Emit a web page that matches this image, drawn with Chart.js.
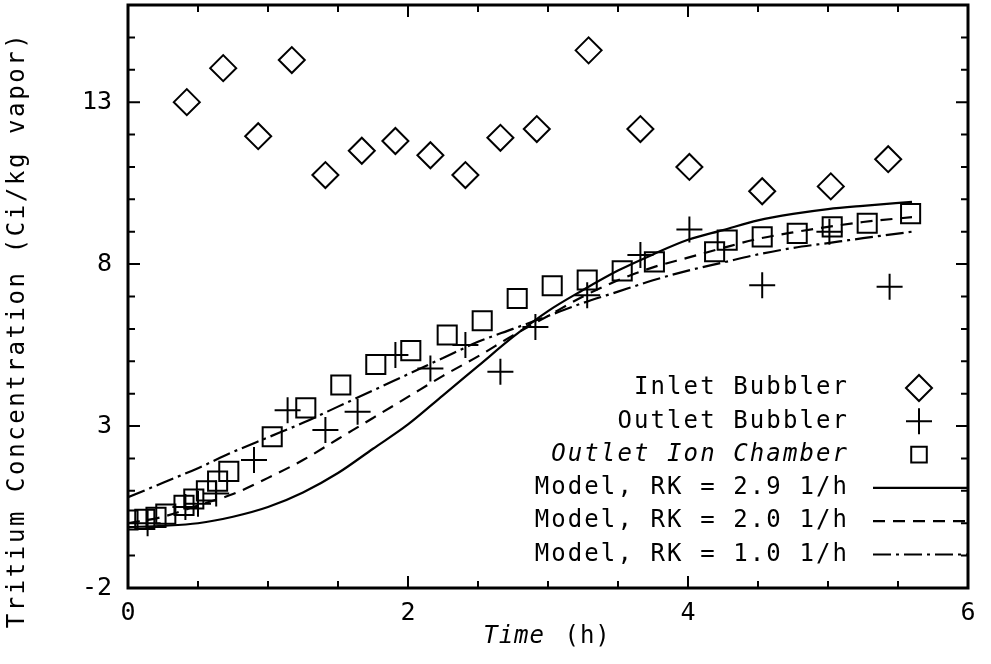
<!DOCTYPE html>
<html>
<head>
<meta charset="utf-8">
<script src="https://cdn.jsdelivr.net/npm/chart.js@4/dist/chart.umd.min.js"></script>
<style>
  html, body { margin: 0; padding: 0; background: #fff; }
  #wrap { width: 991px; height: 664px; }
</style>
</head>
<body>
<div id="wrap"><canvas id="c" width="991" height="664"></canvas></div>
<script>
// Inlet bubbler samples (h, Ci/kg vapor)
const inletTime = [0.42, 0.68, 0.93, 1.17, 1.41, 1.67, 1.91, 2.16, 2.41, 2.66, 2.92, 3.29, 3.66, 4.01, 4.53, 5.02, 5.43];
const inletConc = [13.0, 14.05, 11.95, 14.3, 10.75, 11.5, 11.8, 11.36, 10.75, 11.9, 12.17, 14.6, 12.17, 11.0, 10.25, 10.4, 11.24];

// Outlet bubbler samples
const outletTime = [0.14, 0.41, 0.5, 0.63, 0.9, 1.14, 1.41, 1.64, 1.91, 2.16, 2.41, 2.66, 2.91, 3.28, 3.66, 4.01, 4.53, 5.01, 5.44];
const outletConc = [0.0, 0.5, 0.6, 0.92, 1.95, 3.49, 2.88, 3.44, 5.19, 4.78, 5.5, 4.68, 6.06, 7.04, 8.28, 9.07, 7.35, 9.0, 7.3];

// Outlet ion chamber readings
const ionTime = [0.0, 0.12, 0.2, 0.27, 0.4, 0.47, 0.56, 0.64, 0.72, 1.03, 1.27, 1.52, 1.77, 2.02, 2.28, 2.53, 2.78, 3.03, 3.28, 3.53, 3.76, 4.19, 4.28, 4.53, 4.78, 5.03, 5.28, 5.59];
const ionConc = [0.1, 0.12, 0.18, 0.28, 0.55, 0.75, 1.0, 1.3, 1.6, 2.67, 3.56, 4.27, 4.9, 5.33, 5.81, 6.25, 6.94, 7.33, 7.51, 7.79, 8.07, 8.38, 8.74, 8.84, 8.95, 9.15, 9.26, 9.56];

// Model predictions for three removal constants
const modelTime = [0, 0.25, 0.5, 0.75, 1, 1.25, 1.5, 1.75, 2, 2.25, 2.5, 2.75, 3, 3.25, 3.5, 3.75, 4, 4.25, 4.5, 4.75, 5, 5.25, 5.6];
const modelRK29 = [-0.12, -0.08, 0.0, 0.2, 0.5, 0.95, 1.55, 2.3, 3.05, 3.95, 4.85, 5.75, 6.55, 7.2, 7.8, 8.3, 8.75, 9.05, 9.35, 9.55, 9.7, 9.8, 9.92];
const modelRK20 = [0.0, 0.2, 0.55, 0.9, 1.4, 1.95, 2.6, 3.25, 3.9, 4.55, 5.15, 5.8, 6.4, 7.0, 7.5, 7.9, 8.2, 8.5, 8.78, 8.98, 9.15, 9.3, 9.45];
const modelRK10 = [0.8, 1.25, 1.7, 2.2, 2.65, 3.1, 3.6, 4.1, 4.6, 5.1, 5.6, 6.0, 6.4, 6.8, 7.15, 7.5, 7.8, 8.05, 8.3, 8.5, 8.65, 8.8, 9.0];

// Axis tick labels
const xTickValues = [0, 2, 4, 6];
const yTickValues = [-2, 3, 8, 13];

const FONT = "'DejaVu Sans Mono', 'Liberation Mono', monospace";

function pts(xs, ys) { return xs.map((x, i) => ({ x: x, y: ys[i] })); }

const markerBase = {
  showLine: false,
  borderColor: '#000',
  backgroundColor: 'rgba(0,0,0,0)',
  borderWidth: 2,
  pointBorderWidth: 2,
  pointHoverRadius: 0
};
const curveBase = {
  showLine: true,
  borderColor: '#000',
  backgroundColor: 'rgba(0,0,0,0)',
  borderWidth: 2.2,
  pointRadius: 0,
  pointHoverRadius: 0,
  cubicInterpolationMode: 'monotone',
  fill: false
};

const datasets = [
  Object.assign({}, markerBase, { label: 'Inlet Bubbler', data: pts(inletTime, inletConc), pointStyle: 'rectRot', pointRadius: 13 }),
  Object.assign({}, markerBase, { label: 'Outlet Bubbler', data: pts(outletTime, outletConc), pointStyle: 'cross', pointRadius: 13 }),
  Object.assign({}, markerBase, { label: 'Outlet Ion Chamber', italic: true, data: pts(ionTime, ionConc), pointStyle: 'rect', pointRadius: 13.5 }),
  Object.assign({}, curveBase, { label: 'Model, RK = 2.9 1/h', data: pts(modelTime, modelRK29), borderDash: [] }),
  Object.assign({}, curveBase, { label: 'Model, RK = 2.0 1/h', data: pts(modelTime, modelRK20), borderDash: [12, 8] }),
  Object.assign({}, curveBase, { label: 'Model, RK = 1.0 1/h', data: pts(modelTime, modelRK10), borderDash: [18, 5, 3, 5] })
];

// Frame, inward ticks, in-plot legend and axis titles
const decorPlugin = {
  id: 'decor',
  beforeDraw(chart) {
    const ctx = chart.ctx;
    ctx.save();
    ctx.fillStyle = '#fff';
    ctx.fillRect(0, 0, chart.width, chart.height);
    ctx.restore();
  },
  afterDraw(chart) {
    const ctx = chart.ctx;
    const a = chart.chartArea;
    const xs = chart.scales.x, ys = chart.scales.y;
    ctx.save();
    ctx.strokeStyle = '#000';
    ctx.fillStyle = '#000';

    // inward ticks on all four sides
    ctx.lineWidth = 2;
    ctx.beginPath();
    for (let v = xs.min; v <= xs.max + 1e-9; v += 0.5) {
      const len = xTickValues.includes(v) ? 12 : 7;
      const px = xs.getPixelForValue(v);
      ctx.moveTo(px, a.bottom); ctx.lineTo(px, a.bottom - len);
      ctx.moveTo(px, a.top); ctx.lineTo(px, a.top + len);
    }
    for (let v = ys.min; v <= ys.max + 1e-9; v += 1) {
      const len = yTickValues.includes(v) ? 12 : 7;
      const py = ys.getPixelForValue(v);
      ctx.moveTo(a.left, py); ctx.lineTo(a.left + len, py);
      ctx.moveTo(a.right, py); ctx.lineTo(a.right - len, py);
    }
    ctx.stroke();

    // frame
    ctx.lineWidth = 3;
    ctx.strokeRect(a.left, a.top, a.right - a.left, a.bottom - a.top);

    // legend inside the plot, text right-aligned with symbol column
    const textRight = a.right - 121;
    const symX = a.right - 49;
    const lineX0 = a.right - 95;
    const rowY0 = a.bottom - 200;
    const rowH = 33.3;
    ctx.textBaseline = 'middle';
    ctx.textAlign = 'right';
    chart.data.datasets.forEach((ds, i) => {
      const yy = rowY0 + i * rowH;
      ctx.fillStyle = '#000';
      ctx.font = (ds.italic ? 'italic ' : '') + '24px ' + FONT;
      ctx.letterSpacing = '2.1px';
      ctx.fillText(ds.label, textRight + 2.1, yy);
      ctx.letterSpacing = '0px';
      if (ds.showLine) {
        ctx.save();
        ctx.lineWidth = ds.borderWidth;
        ctx.setLineDash(ds.borderDash || []);
        ctx.beginPath();
        ctx.moveTo(lineX0, yy);
        ctx.lineTo(a.right, yy);
        ctx.stroke();
        ctx.restore();
      } else {
        ctx.save();
        ctx.lineWidth = 2;
        ctx.fillStyle = 'rgba(0,0,0,0)';
        Chart.helpers.drawPoint(ctx, {
          pointStyle: ds.pointStyle,
          rotation: 0,
          radius: ds.pointStyle === 'rect' ? 11 : ds.pointRadius,
          borderWidth: 2
        }, symX, yy);
        ctx.restore();
      }
    });

    // y axis title
    ctx.save();
    ctx.fillStyle = '#000';
    ctx.translate(18, 330);
    ctx.rotate(-Math.PI / 2);
    ctx.textAlign = 'center';
    ctx.textBaseline = 'middle';
    ctx.font = '24px ' + FONT;
    ctx.letterSpacing = '2.6px';
    ctx.fillText('Tritium Concentration (Ci/kg vapor)', 0, 0);
    ctx.restore();

    // x axis title: italic word followed by upright unit
    ctx.fillStyle = '#000';
    ctx.textBaseline = 'middle';
    ctx.textAlign = 'left';
    ctx.letterSpacing = '1px';
    ctx.font = 'italic 24px ' + FONT;
    const w1 = ctx.measureText('Time').width;
    ctx.font = '24px ' + FONT;
    const w2 = ctx.measureText(' (h)').width;
    const startX = 545 - (w1 + w2) / 2;
    ctx.font = 'italic 24px ' + FONT;
    ctx.fillText('Time', startX, 637);
    ctx.font = '24px ' + FONT;
    ctx.fillText(' (h)', startX + w1 + 4, 637);
    ctx.restore();
  }
};

function noPad(s) { s.paddingTop = 0; s.paddingBottom = 0; s.paddingLeft = 0; s.paddingRight = 0; }

new Chart(document.getElementById('c'), {
  type: 'scatter',
  data: { datasets: datasets },
  options: {
    responsive: false,
    animation: false,
    events: [],
    layout: { autoPadding: false, padding: { left: 0, top: 5, right: 23, bottom: 0 } },
    plugins: { legend: { display: false }, tooltip: { enabled: false } },
    scales: {
      x: {
        type: 'linear',
        min: 0, max: 6,
        afterBuildTicks: s => { s.ticks = xTickValues.map(v => ({ value: v })); },
        afterFit: s => { s.height = 76; noPad(s); },
        grid: { display: false, drawTicks: false },
        border: { display: false },
        ticks: { color: '#000', padding: 10, maxRotation: 0, autoSkip: false, font: { family: FONT, size: 25 } }
      },
      y: {
        type: 'linear',
        min: -2, max: 16,
        afterBuildTicks: s => { s.ticks = yTickValues.map(v => ({ value: v })); },
        afterFit: s => { s.width = 128; noPad(s); },
        grid: { display: false, drawTicks: false },
        border: { display: false },
        ticks: { color: '#000', padding: 16, autoSkip: false, font: { family: FONT, size: 25 } }
      }
    }
  },
  plugins: [decorPlugin]
});
</script>
</body>
</html>
